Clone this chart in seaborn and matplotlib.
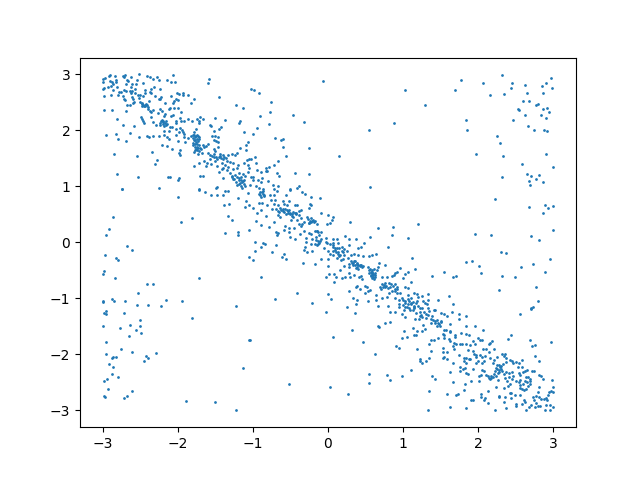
import matplotlib
matplotlib.use("Agg")
import matplotlib.pyplot as plt
import pandas as pd
import seaborn as sns

# Values, region by region, as (x, y)
top_middle = [(-0.06,2.89),(1.02,2.73),(-1.02,2.74),(-0.98,2.73),(-0.92,2.67),(-0.76,2.51),(-0.77,2.33),(-0.46,2.28),(-0.90,2.26),(-0.32,2.15),(-0.78,2.12),(0.88,2.14),(0.54,2.01),(-0.94,2.05),(-1.00,1.94),(-0.70,1.87),(-0.62,1.83),(-0.60,1.85),(-0.60,1.71),(-0.25,1.69),(0.15,1.55),(-0.56,1.55),(-1.03,1.49),(-0.97,1.53),(-0.66,1.46),(-0.96,1.41),(-0.72,1.39),(-0.78,1.35),(-0.82,1.33),(-0.82,1.28),(-0.81,1.28),(-0.94,1.29),(-0.89,1.26),(-0.68,1.24),(-0.44,1.24),(-0.25,1.23),(-0.65,1.19),(-1.02,1.17),(-1.00,1.17),(-0.88,1.15),(-0.93,1.12),(-0.80,1.10),(-1.00,1.12),(-0.89,1.07),(-0.96,1.01),(-0.73,1.03),(-0.66,1.00),(-0.38,1.01),(-0.41,0.98),(0.56,0.99),(-1.04,1.02),(-0.92,0.98),(-0.72,0.96),(-0.51,0.95),(-0.86,0.95)]
top_right = [(2.31,2.99),(2.97,2.94),(1.765,2.905),(2.06,2.85),(2.445,2.85),(2.90,2.85),(2.62,2.815),(2.845,2.80),(2.43,2.76),(2.98,2.76),(1.685,2.73),(2.15,2.64),(2.34,2.655),(2.645,2.67),(2.86,2.67),(1.285,2.46),(2.59,2.53),(2.67,2.53),(2.765,2.46),(2.79,2.48),(2.525,2.39),(2.54,2.37),(2.86,2.39),(2.91,2.40),(2.94,2.33),(2.62,2.28),(2.83,2.28),(2.90,2.23),(1.83,2.19),(2.46,2.19),(1.845,2.01),(2.66,2.08),(2.74,2.01),(2.87,2.01),(2.91,1.99),(2.245,1.90),(2.285,1.78),(1.965,1.58),(2.325,1.55),(2.90,1.57),(2.58,1.40),(3.00,1.35),(2.31,1.17),(2.645,1.23),(2.70,1.19),(2.805,1.21),(2.765,1.14),(2.67,1.10),(2.86,1.08),(2.685,1.03)]
middle_right = [(2.22,0.78),(2.67,0.64),(2.885,0.67),(2.925,0.62),(2.99,0.65),(2.86,0.53),(1.95,0.15),(2.165,0.14),(2.70,0.12),(3.00,0.23),(2.805,0.05),(2.30,-0.17),(2.365,-0.185),(1.83,-0.35),(1.91,-0.33),(2.005,-0.42),(2.725,-0.38),(2.95,-0.29),(2.565,-0.435),(1.54,-0.52),(2.885,-0.52),(2.03,-0.54),(1.38,-0.595),(1.66,-0.61),(1.70,-0.595),(2.31,-0.595),(2.485,-0.61),(2.765,-0.79),(2.27,-0.85),(1.245,-0.95),(1.325,-0.92),(1.605,-0.95),(1.46,-1.02),(1.325,-1.02),(1.27,-1.04),(1.29,-1.08),(1.315,-1.10),(1.66,-1.10),(2.79,-1.04),(2.725,-1.15),(2.70,-1.18),(1.245,-1.17),(1.325,-1.18),(1.405,-1.20)]
middle_left = [(-2.74,0.95),(-1.995,0.815),(-1.72,0.93),(-1.64,0.90),(-1.56,0.85),(-1.475,0.85),(-1.395,0.85),(-1.37,0.92),(-1.33,0.92),(-1.195,0.80),(-1.06,0.89),(-1.09,0.74),(-1.38,0.67),(-1.315,0.69),(-1.10,0.64),(-1.045,0.66),(-2.86,0.46),(-1.81,0.44),(-1.955,0.37),(-1.33,0.475),(-1.275,0.40),(-2.915,0.24),(-2.955,0.135),(-1.37,0.17),(-1.195,0.19),(-1.195,0.135),(-1.05,0.225),(-2.675,-0.06),(-2.61,-0.13),(-2.97,-0.22),(-2.82,-0.275),(-2.795,-0.31),(-1.05,-0.26),(-2.98,-0.51),(-2.995,-0.56),(-2.835,-0.63),(-1.715,-0.63),(-2.41,-0.74),(-2.33,-0.74),(-2.53,-0.90),(-2.995,-1.04),(-2.995,-1.06),(-2.875,-1.006),(-2.85,-1.04),(-2.70,-1.04),(-2.155,-1.02),(-1.94,-1.04),(-2.54,-1.11),(-2.40,-1.11),(-2.22,-1.13),(-1.22,-1.13)]
bottom_left = [(-2.955,-1.22),(-2.98,-1.255),(-2.955,-1.27),(-2.715,-1.255),(-1.81,-1.345),(-2.50,-1.38),(-2.995,-1.49),(-2.635,-1.47),(-2.50,-1.49),(-2.77,-1.52),(-2.556,-1.56),(-2.49,-1.61),(-2.65,-1.68),(-2.955,-1.77),(-1.05,-1.74),(-2.756,-1.90),(-2.955,-1.99),(-2.61,-1.95),(-2.29,-1.97),(-2.86,-2.04),(-2.875,-2.06),(-2.82,-2.04),(-2.42,-2.02),(-2.395,-2.06),(-2.45,-2.11),(-2.915,-2.17),(-2.86,-2.22),(-1.13,-2.24),(-2.875,-2.345),(-2.795,-2.40),(-2.94,-2.435),(-2.98,-2.47),(-2.93,-2.61),(-2.61,-2.65),(-2.676,-2.74),(-2.98,-2.74),(-2.97,-2.755),(-2.716,-2.77),(-1.89,-2.83),(-1.50,-2.845),(-1.22,-2.99)]
bottom_middle = [(-0.02,-1.24),(0.365,-1.255),(0.82,-1.24),(0.885,-1.24),(1.005,-1.20),(1.085,-1.20),(1.125,-1.20),(1.165,-1.255),(0.98,-1.27),(1.03,-1.327),(1.22,-1.31),(1.155,-1.36),(1.205,-1.36),(0.83,-1.416),(0.765,-1.434),(0.66,-1.49),(0.685,-1.505),(1.125,-1.52),(0.325,-1.56),(1.005,-1.577),(1.18,-1.577),(1.14,-1.65),(1.165,-1.65),(1.045,-1.684),(0.99,-1.70),(0.07,-1.684),(-1.04,-1.74),(0.47,-1.77),(0.90,-1.845),(0.95,-1.88),(1.19,-1.90),(0.63,-1.99),(1.22,-2.08),(1.22,-2.11),(1.11,-2.27),(0.54,-2.345),(0.78,-2.36),(0.98,-2.38),(0.82,-2.45),(0.55,-2.505),(-0.515,-2.52),(0.02,-2.577),(0.27,-2.70)]
bottom_right = [(2.55,-1.27),(2.70,-1.196),(1.83,-1.31),(1.74,-1.27),(1.74,-1.36),(1.645,-1.24),(1.50,-1.255),(1.55,-1.27),(1.58,-1.31),(1.83,-1.49),(1.95,-1.49),(1.62,-1.45),(2.06,-1.56),(1.227,-1.24),(1.245,-1.327),(1.30,-1.27),(1.35,-1.22),(1.42,-1.20),(1.30,-1.345),(1.365,-1.36),(1.365,-1.434),(1.43,-1.434),(1.47,-1.434),(1.51,-1.40),(1.445,-1.49),(1.485,-1.49),(1.27,-1.47),(1.285,-1.54),(1.245,-1.577),(1.54,-1.56),(1.565,-1.56),(1.525,-1.63),(1.55,-1.65),(1.62,-1.595),(1.63,-1.577),(1.765,-1.61),(1.83,-1.63),(1.87,-1.65),(1.685,-1.65),(1.685,-1.684),(1.54,-1.70),(1.46,-1.70),(1.405,-1.74),(1.365,-1.74),(1.35,-1.81),(1.605,-1.72),(1.63,-1.755),(1.67,-1.79),(1.70,-1.81),(1.75,-1.81),(1.78,-1.81),(1.66,-1.845),(1.67,-1.90),(1.525,-1.88),(2.43,-1.65),(2.39,-1.72),(2.685,-1.74),(2.75,-1.83),(2.71,-1.845),(2.965,-1.77),(1.99,-1.70),(2.02,-1.74),(2.045,-1.74),(1.925,-1.755),(1.95,-1.81),(1.885,-1.83),(1.83,-1.81),(2.18,-1.755),(2.15,-1.79),(2.14,-1.81),(1.365,-1.935),(1.525,-1.95),(1.58,-1.95),(1.55,-2.04),(1.525,-2.06),(1.58,-2.08),(1.74,-2.005),(1.86,-1.915),(1.925,-1.935),(1.94,-1.99),(2.06,-1.90),(2.10,-1.90),(2.205,-1.90),(2.14,-1.95),(2.75,-2.02),(2.805,-2.11),(1.34,-2.06),(1.31,-2.11),(1.245,-2.15),(1.66,-2.15),(1.805,-2.06),(1.83,-2.06),(1.87,-2.08),(1.885,-2.08),(1.805,-2.11),(1.83,-2.15),(1.965,-2.005),(1.965,-2.04),(2.02,-2.005),(2.045,-2.04),(2.085,-2.02),(2.15,-2.06),(2.245,-2.04),(2.205,-2.094),(1.99,-2.11),(2.07,-2.11),(1.965,-2.15),(2.045,-2.15),(2.31,-1.99),(2.35,-1.99),(2.34,-2.02),(2.365,-2.06),(2.365,-2.13),(2.42,-2.094),(2.445,-2.11),(2.46,-2.15),(2.50,-2.13),(2.54,-2.15),(2.58,-2.094),(2.19,-2.15),(2.245,-2.184),(2.27,-2.184),(2.325,-2.166),(2.23,-2.24),(2.285,-2.22),(2.30,-2.256),(2.245,-2.256),(2.27,-2.31),(1.75,-2.22),(1.79,-2.256),(1.82,-2.24),(1.75,-2.29),(1.925,-2.256),(1.83,-2.327),(1.86,-2.345),(1.62,-2.31),(2.045,-2.27),(2.07,-2.29),(2.03,-2.36),(2.005,-2.38),(2.10,-2.36),(2.125,-2.38),(2.14,-2.416),(2.165,-2.38),(2.15,-2.434),(2.005,-2.47),(1.90,-2.47),(1.38,-2.38),(1.42,-2.434),(1.66,-2.49),(1.82,-2.52),(1.805,-2.63),(1.35,-2.65),(2.205,-2.345),(2.23,-2.38),(2.34,-2.345),(2.365,-2.31),(2.405,-2.327),(2.445,-2.31),(2.35,-2.416),(2.405,-2.40),(2.46,-2.38),(2.445,-2.434),(2.26,-2.45),(2.38,-2.47),(2.525,-2.22),(2.58,-2.22),(2.59,-2.31),(2.54,-2.327),(2.62,-2.29),(2.645,-2.27),(2.71,-2.29),(2.74,-2.29),(2.66,-2.40),(2.63,-2.40),(2.55,-2.36),(2.685,-2.434),(2.685,-2.47),(2.685,-2.52),(2.805,-2.36),(2.83,-2.38),(2.86,-2.434),(2.98,-2.45),(2.55,-2.45),(2.50,-2.47),(2.54,-2.49),(2.42,-2.52),(2.39,-2.56),(2.23,-2.577),(2.125,-2.65),(2.34,-2.595),(2.55,-2.54),(2.55,-2.595),(2.58,-2.61),(2.605,-2.63),(2.63,-2.61),(2.66,-2.56),(2.805,-2.577),(3.00,-2.577),(2.965,-2.65),(2.99,-2.666),(2.94,-2.666),(2.925,-2.72),(2.79,-2.666),(2.725,-2.755),(2.765,-2.74),(2.805,-2.755),(2.83,-2.79),(2.87,-2.79),(2.90,-2.77),(2.91,-2.81),(2.74,-2.81),(2.765,-2.86),(2.79,-2.916),(2.75,-2.934),(2.82,-2.916),(2.90,-2.90),(2.95,-2.90),(2.99,-2.934),(2.885,-2.99),(2.95,-2.99),(1.59,-2.70),(1.70,-2.72),(1.725,-2.70),(1.90,-2.81),(1.925,-2.81),(2.03,-2.70),(2.03,-2.755),(2.07,-2.81),(2.085,-2.77),(2.125,-2.86),(2.27,-2.74),(2.27,-2.755),(2.35,-2.755),(2.42,-2.685),(2.43,-2.685),(2.485,-2.72),(2.43,-2.77),(2.55,-2.72),(2.605,-2.81),(2.62,-2.845),(2.50,-2.88),(2.50,-2.916),(2.58,-2.88),(2.70,-2.90),(2.67,-2.934),(2.63,-2.99),(2.365,-2.95),(2.22,-2.99),(1.83,-2.95),(1.63,-2.934),(1.325,-2.99),(2.34,-2.845)]
top_left = [(-2.516,3.0),(-2.996,2.92),(-2.97,2.94),(-2.916,2.976),(-2.90,2.99),(-2.836,2.976),(-2.73,2.976),(-2.70,2.99),(-2.716,2.96),(-2.62,2.96),(-2.996,2.87),(-2.90,2.887),(-2.875,2.87),(-2.82,2.905),(-2.82,2.87),(-2.676,2.905),(-2.66,2.887),(-2.54,2.905),(-2.46,2.85),(-2.41,2.976),(-2.37,2.96),(-2.33,2.92),(-2.276,2.96),(-2.25,2.905),(-2.14,2.905),(-2.09,2.87),(-2.036,2.87),(-2.06,2.994),(-1.58,2.92),(-1.596,2.85),(-2.86,2.83),(-2.81,2.78),(-2.89,2.80),(-2.93,2.78),(-2.996,2.744),(-2.98,2.762),(-2.69,2.83),(-2.61,2.83),(-2.556,2.83),(-2.62,2.78),(-2.316,2.78),(-2.236,2.744),(-2.356,2.744),(-2.436,2.726),(-2.436,2.673),(-2.783,2.69),(-2.756,2.69),(-2.716,2.726),(-2.69,2.708),(-2.636,2.708),(-2.61,2.708),(-2.57,2.744),(-2.62,2.673),(-2.57,2.673),(-2.86,2.726),(-2.89,2.637),(-2.98,2.62),(-2.796,2.637),(-2.73,2.62),(-2.716,2.566),(-2.70,2.55),(-2.61,2.60),(-2.596,2.566),(-2.53,2.637),(-2.50,2.637),(-2.516,2.583),(-2.46,2.62),(-2.37,2.69),(-2.356,2.673),(-2.30,2.62),(-2.25,2.566),(-2.22,2.60),(-2.236,2.566),(-2.38,2.53),(-2.09,2.62),(-2.01,2.673),(-1.98,2.655),(-1.93,2.673),(-1.93,2.637),(-1.862,2.637),(-1.78,2.566),(-1.82,2.494),(-1.45,2.60),(-2.02,2.566),(-1.996,2.55),(-2.05,2.53),(-2.06,2.494),(-2.17,2.494)]
upper_band = [(-2.676,2.46),(-2.636,2.46),(-2.596,2.494),(-2.58,2.51),(-2.50,2.51),(-2.476,2.494),(-2.46,2.46),(-2.436,2.46),(-2.41,2.46),(-2.476,2.44),(-2.396,2.387),(-2.37,2.35),(-2.356,2.33),(-2.33,2.37),(-2.98,2.37),(-2.875,2.37),(-2.69,2.35),(-2.236,2.387),(-2.21,2.35),(-2.26,2.316),(-2.116,2.387),(-2.10,2.405),(-2.05,2.405),(-1.996,2.405),(-1.956,2.33),(-1.22,2.46),(-1.13,2.405),(-2.18,2.26),(-2.17,2.298),(-2.09,2.26),(-2.06,2.28),(-1.97,2.226),(-2.81,2.21),(-2.49,2.244),(-2.476,2.21),(-2.46,2.173),(-2.45,2.137),(-2.356,2.244),(-2.33,2.155),(-2.29,2.10),(-2.236,2.10),(-2.22,2.173),(-2.196,2.173),(-2.17,2.137),(-2.14,2.12),(-2.18,2.08),(-2.02,2.173),(-2.02,2.137),(-1.956,2.173),(-1.916,2.173),(-1.862,2.21),(-1.81,2.173),(-1.743,2.21),(-1.70,2.244),(-1.716,2.173),(-1.66,2.21),(-1.50,2.226),(-1.37,2.19),(-1.17,2.173),(-1.18,2.137),(-2.73,2.10),(-2.58,2.08),(-1.716,2.137),(-1.57,2.10),(-1.556,2.08),(-2.10,2.066),(-2.076,2.066),(-2.18,1.994),(-2.116,1.994),(-2.02,2.03),(-1.97,2.05),(-1.94,2.01),(-1.98,1.976),(-1.93,1.976),(-1.916,1.94),(-1.756,2.03),(-1.78,1.976),(-1.42,2.066),(-1.45,2.03),(-1.516,1.994),(-1.116,1.976),(-2.636,1.96),(-2.956,1.92),(-2.82,1.94),(-2.516,1.887),(-2.41,1.905),(-2.38,1.887),(-2.33,1.905),(-2.25,1.905),(-2.796,1.85),(-2.69,1.816),(-2.18,1.92),(-2.14,1.887),(-2.116,1.85),(-2.02,1.92),(-1.996,1.816),(-1.916,1.887),(-1.90,1.798),(-1.862,1.869),(-1.82,1.905),(-1.796,1.92),(-1.756,1.905),(-1.73,1.905),(-1.796,1.869),(-1.77,1.833),(-1.743,1.85),(-1.54,1.905),(-1.50,1.905),(-1.46,1.887),(-1.516,1.833),(-1.49,1.816),(-1.46,1.798),(-1.06,1.798),(-1.09,1.744)]
lower_band = [(-2.21,1.744),(-2.14,1.726),(-2.076,1.673),(-1.97,1.655),(-1.98,1.60),(-1.97,1.566),(-2.343,1.62),(-2.85,1.584),(-2.54,1.548),(-1.796,1.78),(-1.743,1.762),(-1.77,1.708),(-1.756,1.673),(-1.78,1.62),(-1.716,1.637),(-1.70,1.69),(-1.662,1.744),(-1.62,1.726),(-1.596,1.762),(-1.65,1.708),(-1.73,1.584),(-1.676,1.60),(-1.596,1.60),(-1.516,1.673),(-1.50,1.637),(-1.46,1.708),(-1.17,1.69),(-1.21,1.60),(-1.436,1.584),(-1.45,1.53),(-1.383,1.53),(-1.33,1.566),(-1.276,1.584),(-1.236,1.566),(-1.09,1.655),(-1.57,1.566),(-1.516,1.53),(-1.57,1.494),(-1.476,1.494),(-1.50,1.458),(-1.396,1.494),(-1.41,1.42),(-1.61,1.42),(-1.65,1.458),(-1.556,1.405),(-1.476,1.37),(-2.276,1.476),(-2.30,1.405),(-1.78,1.37),(-1.716,1.42),(-1.62,1.37),(-1.45,1.262),(-1.396,1.155),(-1.70,1.19),(-1.662,1.19),(-2.81,1.226),(-2.53,1.173),(-2.13,1.173),(-2.10,1.173),(-1.98,1.155),(-1.996,1.12),(-2.74,0.958),(-2.25,0.976),(-1.716,0.947),(-1.476,0.994),(-1.49,0.976),(-1.396,1.333),(-1.33,1.35),(-1.37,1.387),(-1.30,1.44),(-1.262,1.42),(-1.196,1.387),(-1.116,1.42),(-1.076,1.476),(-1.063,1.387),(-1.05,1.494),(-1.21,1.333),(-1.262,1.315),(-1.30,1.244),(-1.276,1.19),(-1.236,1.21),(-1.183,1.244),(-1.13,1.226),(-1.21,1.173),(-1.156,1.173),(-1.10,1.19),(-1.063,1.262),(-1.262,1.137),(-1.183,1.12),(-1.13,1.10),(-1.17,1.066),(-1.116,1.048),(-1.21,1.03),(-1.156,1.012),(-1.343,1.298),(-1.41,1.315),(-1.05,1.333)]
centre_upper = [(-0.916,0.869),(-0.876,0.904),(-0.85,0.85),(-0.89,0.815),(-0.916,0.708),(-0.876,0.708),(-0.77,0.85),(-0.716,0.85),(-0.676,0.922),(-0.556,0.85),(-0.50,0.94),(-0.34,0.904),(-0.30,0.869),(-0.22,0.815),(-0.10,0.797),(-0.996,0.619),(-0.94,0.53),(-0.89,0.583),(-0.82,0.476),(-0.81,0.672),(-0.756,0.761),(-0.70,0.761),(-0.716,0.69),(-0.662,0.672),(-0.69,0.601),(-0.74,0.601),(-0.596,0.744),(-0.582,0.69),(-0.516,0.744),(-0.542,0.672),(-0.636,0.619),(-0.596,0.565),(-0.65,0.547),(-0.57,0.601),(-0.516,0.583),(-0.662,0.494),(-0.636,0.458),(-0.53,0.53),(-0.50,0.51),(-0.476,0.51),(-0.436,0.672),(-0.41,0.672),(-0.382,0.565),(-0.356,0.583),(-0.422,0.53),(-0.382,0.494),(-0.462,0.458),(-0.49,0.404),(-0.41,0.404),(-0.356,0.44),(-0.236,0.69),(-0.222,0.672),(-0.25,0.619),(-0.09,0.53),(-0.276,0.458),(-0.222,0.44),(-0.196,0.404),(-0.222,0.369),(-0.25,0.351),(-0.316,0.369),(-0.342,0.333),(0.004,0.494),(0.07,0.458),(0.058,0.404),(0.03,0.351),(-0.01,0.333),(-0.142,0.333),(-0.956,0.386),(-0.89,0.315),(-0.782,0.279),(-0.716,0.369),(-0.69,0.19),(-0.662,0.172),(-0.676,0.136),(-0.57,0.297),(-0.582,0.226),(-0.516,0.261),(-0.449,0.261),(-0.516,0.19),(-0.382,0.333),(-0.356,0.297),(-0.316,0.208),(-0.369,0.154),(-0.50,0.101),(-0.436,0.065),(-0.25,0.172),(-0.222,0.154),(-0.169,0.208),(-0.142,0.208),(-0.09,0.19),(-0.116,0.136),(-0.156,0.101),(-0.09,0.065),(-0.289,0.083),(-0.289,0.011),(-0.209,0.065),(-0.129,-0.024),(-0.169,-0.024),(-0.222,-0.024)]
centre_lower = [(-0.97,0.011),(-0.862,-0.006),(-0.836,-0.024),(-0.89,-0.078),(-0.97,-0.149),(-0.742,-0.167),(-0.69,-0.042),(-0.582,-0.203),(-0.609,-0.256),(-0.556,-0.292),(-0.996,-0.31),(-0.329,-0.363),(-0.302,-0.078),(-0.316,-0.131),(-0.276,-0.167),(-0.209,-0.149),(-0.169,-0.381),(-0.09,-0.292),(0.004,-0.292),(-0.049,-0.096),(-0.009,-0.006),(-0.022,0.083),(-0.022,0.011),(0.004,-0.149),(0.031,-0.203),(0.071,-0.221),(0.071,0.065),(0.124,0.065),(0.071,-0.006),(0.071,-0.042),(0.138,-0.006),(0.098,-0.096),(0.151,-0.096),(0.138,-0.167),(0.191,-0.078),(0.164,-0.221),(0.218,-0.113),(0.284,-0.042),(0.231,0.119),(0.284,0.065),(0.378,0.065),(0.484,-0.006),(0.564,0.101),(0.444,-0.078),(0.404,-0.096),(0.258,-0.149),(0.311,-0.221),(0.351,-0.203),(0.404,-0.221),(0.471,-0.239),(0.551,-0.239),(0.591,-0.221),(0.644,-0.203),(0.298,0.369),(0.671,0.261),(0.858,0.136),(0.871,0.279),(1.058,0.083),(1.204,0.333),(0.804,-0.078),(1.124,-0.274),(1.164,-0.47),(1.071,-0.524),(0.964,-0.453),(0.218,-0.221),(0.271,-0.274),(0.204,-0.292),(0.124,-0.274),(0.178,-0.31),(0.311,-0.328),(0.338,-0.363),(0.364,-0.328),(0.391,-0.363),(0.338,-0.399),(0.391,-0.435),(0.431,-0.399),(0.458,-0.435),(0.284,-0.381),(0.218,-0.417),(0.164,-0.489),(0.284,-0.435),(0.004,-0.417),(0.018,-0.56),(-0.022,-0.614),(0.084,-0.56),(0.111,-0.614),(0.084,-0.703),(0.191,-0.631),(0.231,-0.614),(0.284,-0.542),(0.298,-0.614),(0.351,-0.578),(0.418,-0.614),(0.444,-0.596),(0.458,-0.649),(0.538,-0.435),(0.564,-0.471),(0.591,-0.489),(0.618,-0.471),(0.551,-0.542),(0.578,-0.578),(0.604,-0.56),(0.631,-0.578),(0.591,-0.631),(0.618,-0.649),(0.658,-0.489),(0.684,-0.363),(0.671,-0.435),(0.764,-0.399),(0.791,-0.614),(0.724,-0.614),(0.898,-0.542),(0.924,-0.524),(0.884,-0.578),(0.858,-0.596),(1.018,-0.56),(1.004,-0.631),(1.098,-0.703),(0.818,-0.721),(0.844,-0.739),(0.764,-0.721),(0.724,-0.739),(0.698,-0.792),(0.738,-0.792),(0.711,-0.828),(0.764,-0.792),(0.898,-0.739),(0.924,-0.792),(0.898,-0.864),(0.924,-0.899),(1.031,-0.792),(1.058,-0.81),(0.964,-0.899),(0.818,-0.899),(0.791,-0.971),(0.724,-0.989),(0.644,-0.935),(0.644,-1.024),(0.671,-1.131),(0.804,-1.131),(0.898,-0.989),(0.951,-1.024),(1.004,-1.024),(1.058,-0.935),(1.098,-0.989),(1.084,-1.042),(1.018,-1.078),(0.951,-1.096),(0.951,-1.149),(1.018,-1.149),(1.058,-1.096),(1.111,-1.078),(1.138,-1.131),(1.084,-1.167),(1.151,-1.167),(1.178,-0.917),(1.151,-0.899),(1.204,-0.971),(0.391,-0.774),(0.378,-0.792),(0.431,-0.828),(0.284,-0.864),(0.498,-0.774),(0.524,-0.792),(0.538,-0.864),(0.564,-0.846),(0.498,-0.899),(0.338,-0.989),(0.391,-1.024),(0.378,-1.096),(0.538,-1.042),(0.258,-1.149),(0.004,-0.917),(0.044,-1.006),(-0.209,-1.078),(-0.409,-0.899),(-0.702,-1.006),(-0.889,-0.614)]
dense_clusters = [(-1.78,1.92),(-1.77,1.887),(-1.743,1.92),(-1.716,1.887),(-1.78,1.833),(-1.756,1.798),(-1.73,1.816),(-1.716,1.85),(-1.796,1.744),(-1.77,1.762),(-1.743,1.708),(-1.716,1.744),(-1.77,1.655),(-1.743,1.655),(-1.73,1.69),(-1.69,1.673),(-2.47,2.47),(-2.45,2.44),(-2.43,2.43),(-2.42,2.48),(-2.40,2.42),(-2.21,2.19),(-2.19,2.15),(-2.16,2.16),(-2.20,2.12),(-2.15,2.09),(-2.23,2.14),(-1.54,1.55),(-1.52,1.58),(-1.49,1.52),(-1.44,1.54),(-1.42,1.50),(-1.40,1.56),(-1.36,1.50),(-1.35,1.46),(-1.28,1.16),(-1.25,1.13),(-1.22,1.08),(-1.19,1.15),(-1.16,1.12),(-1.14,1.07),(-1.19,1.04),(-1.12,1.12),(-1.11,1.00),(-1.14,0.98),(-0.90,0.90),(-0.87,0.87),(-0.90,0.84),(-0.85,0.82),(-0.87,0.92),(-0.66,0.56),(-0.63,0.58),(-0.60,0.60),(-0.58,0.55),(-0.55,0.58),(-0.53,0.56),(-0.56,0.50),(-0.51,0.53),(-0.47,0.55),(-0.44,0.52),(-0.42,0.50),(-0.48,0.47),(-0.27,0.41),(-0.24,0.39),(-0.21,0.38),(-0.19,0.36),(-0.17,0.39),(-0.25,0.34),(-0.15,0.20),(-0.13,0.18),(-0.16,0.05),(-0.13,0.03),(-0.12,-0.01),(-0.10,0.02),(-0.14,-0.05),(0.03,-0.02),(0.06,-0.08),(0.09,-0.13),(0.12,-0.10),(0.10,-0.17),(0.13,-0.21),(0.15,-0.24),(0.18,-0.15),(0.20,-0.18),(0.07,-0.15),(0.32,-0.36),(0.34,-0.33),(0.36,-0.41),(0.38,-0.39),(0.40,-0.40),(0.42,-0.43),(0.44,-0.40),(0.37,-0.45),(0.40,-0.47),(0.47,-0.43),(0.55,-0.50),(0.57,-0.53),(0.58,-0.55),(0.60,-0.58),(0.62,-0.54),(0.60,-0.61),(0.57,-0.60),(0.63,-0.61),(0.59,-0.52),(0.74,-0.76),(0.77,-0.78),(0.80,-0.82),(0.83,-0.80),(0.86,-0.78),(0.89,-0.84),(0.92,-0.83),(0.85,-0.87),(0.98,-1.00),(1.03,-1.04),(1.07,-1.01),(1.10,-1.10),(1.13,-1.06),(1.17,-1.09),(1.00,-1.12),(1.05,-1.15),(1.14,-1.16),(1.20,-1.13),(1.19,-1.05),(1.22,-1.18),(1.24,-1.29),(1.28,-1.25),(1.33,-1.30),(1.38,-1.32),(1.40,-1.38),(1.42,-1.41),(1.45,-1.38),(1.48,-1.45),(1.50,-1.42),(2.20,-2.40),(2.17,-2.42),(2.22,-2.30),(2.26,-2.33),(2.30,-2.20),(2.28,-2.27),(2.32,-2.30),(2.62,-2.47),(2.60,-2.52),(2.65,-2.50)]

regions = [top_left, top_middle, top_right, upper_band, lower_band, dense_clusters, middle_left,
           centre_upper, centre_lower, middle_right, bottom_left, bottom_middle, bottom_right]
points = pd.DataFrame([p for r in regions for p in r], columns=["x", "y"])

fig, ax = plt.subplots(figsize=(6.4, 4.8), dpi=100)
sns.scatterplot(data=points, x="x", y="y", s=2, linewidth=0.5, edgecolor="face",
                color="#1f77b4", ax=ax)
ax.set_xlim(-3.3, 3.3)
ax.set_ylim(-3.3, 3.3)
ax.set_xlabel("")
ax.set_ylabel("")
fig.savefig("out.png", dpi=100)
